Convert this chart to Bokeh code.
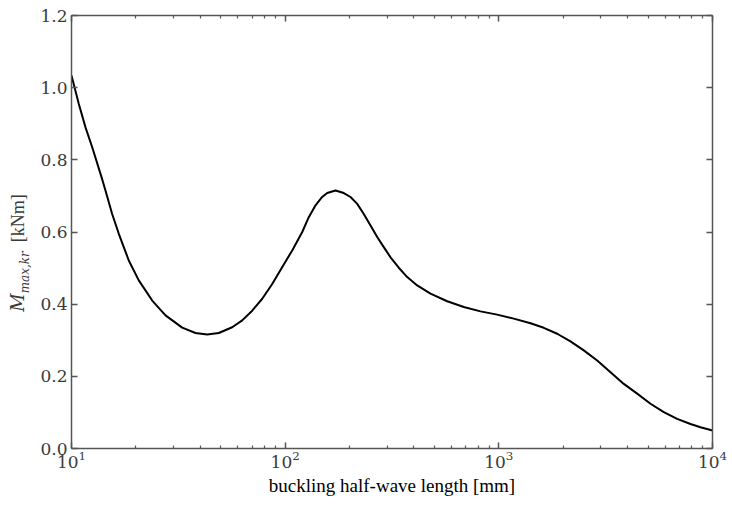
from bokeh.plotting import figure
from bokeh.layouts import row
from bokeh.models import (Range1d, FixedTicker, LogAxis, LogTickFormatter,
                          PrintfTickFormatter, LinearAxis, Div,
                          CustomJSTickFormatter)
from bokeh.embed import file_html
from bokeh.resources import INLINE

# buckling half-wave length [mm]
half_wave = [10.0, 10.82, 11.63, 12.50, 13.82, 14.42, 15.50, 16.65, 18.54,
             20.65, 23.86, 27.54, 32.97, 38.04, 43.16, 48.9, 56.50, 62.95,
             70.11, 78.1, 86.98, 96.8, 107.9, 120.2, 129.0, 138.7, 149.0,
             157.3, 172.0, 188.1, 202.2, 217.4, 233.3, 250.9, 269.6, 289.4,
             311.2, 340.2, 372.5, 414.9, 478.8, 573.3, 685.5, 821.0, 982.4,
             1175.0, 1407.0, 1623.0, 1876.0, 2164.0, 2498.0, 2886.0, 3332.0,
             3845.0, 4441.0, 5127.0, 5916.0, 6834.0, 7888.0, 8786.0, 10000.0]
# M_max,kr [kNm]
moment = [1.034, 0.955, 0.890, 0.835, 0.752, 0.715, 0.650, 0.595, 0.521,
          0.466, 0.410, 0.369, 0.335, 0.320, 0.316, 0.320, 0.336, 0.355,
          0.382, 0.415, 0.456, 0.5025, 0.549, 0.600, 0.641, 0.674, 0.697,
          0.708, 0.715, 0.708, 0.697, 0.678, 0.650, 0.618, 0.586, 0.558,
          0.530, 0.501, 0.475, 0.452, 0.429, 0.408, 0.392, 0.380, 0.371,
          0.360, 0.347, 0.3345, 0.318, 0.297, 0.272, 0.244, 0.211,
          0.179, 0.152, 0.124, 0.101, 0.082, 0.068, 0.059, 0.050]

x_major = [10, 100, 1000, 10000]
x_minor = [m * d for d in (10, 100, 1000) for m in range(2, 10)]
y_ticks = [0.0, 0.2, 0.4, 0.6, 0.8, 1.0, 1.2]

AX = "#555555"
TXT = "#3a3a3a"
LABEL_W = 36

p = figure(width=732 - LABEL_W, height=510, x_axis_type="log",
           x_range=Range1d(10, 10000), y_range=Range1d(0, 1.2),
           output_backend="svg", toolbar_location=None,
           min_border_left=71 - LABEL_W, min_border_right=20,
           min_border_top=15, min_border_bottom=62, margin=0)
p.outline_line_color = None
p.grid.visible = False
p.background_fill_color = "white"

p.line(half_wave, moment, line_color="black", line_width=2,
       line_join="round")

xt = FixedTicker(ticks=x_major, minor_ticks=x_minor)
yt = FixedTicker(ticks=y_ticks, minor_ticks=[])

def style(ax):
    ax.axis_line_color = AX
    ax.axis_line_width = 1.5
    ax.major_tick_line_color = AX
    ax.minor_tick_line_color = AX
    ax.major_tick_line_width = 1.5
    ax.minor_tick_line_width = 1.2
    ax.major_tick_in = 6
    ax.major_tick_out = 0
    ax.minor_tick_in = 3
    ax.minor_tick_out = 0
    ax.major_label_text_font = "DejaVu Serif"
    ax.major_label_text_font_size = "17px"
    ax.major_label_text_color = TXT

xb = p.xaxis[0]
xb.ticker = xt
xb.formatter = LogTickFormatter()
style(xb)
xb.major_label_standoff = 2
xb.axis_label = "buckling half-wave length [mm]"
xb.axis_label_text_font = "Liberation Serif"
xb.axis_label_text_font_style = "normal"
xb.axis_label_text_font_size = "19px"
xb.axis_label_text_color = "black"
xb.axis_label_standoff = 4

yl = p.yaxis[0]
yl.ticker = yt
yl.formatter = PrintfTickFormatter(format="%.1f")
style(yl)
yl.major_label_standoff = 4

xa = LogAxis(ticker=xt, formatter=CustomJSTickFormatter(code="return ''"))
style(xa)
xa.major_label_text_font_size = "1px"
xa.major_label_standoff = 0
p.add_layout(xa, "above")
yr = LinearAxis(ticker=yt, formatter=CustomJSTickFormatter(code="return ''"))
style(yr)
yr.major_label_text_font_size = "1px"
yr.major_label_standoff = 0
p.add_layout(yr, "right")

# y-axis title M_{max,kr} [kNm], rotated, as real HTML text
ylabel_html = (
    '<div style="position:relative;width:%dpx;height:510px;">'
    '<div style="position:absolute;left:20px;top:253px;'
    'transform:translate(-50%%,-50%%) rotate(-90deg);white-space:nowrap;'
    'font-family:Liberation Serif,Times New Roman,serif;font-size:18px;'
    'color:%s;line-height:1;">'
    '<i style="font-family:DejaVu Serif,serif;font-size:18px;">M</i>'
    '<sub style="font-family:DejaVu Serif,serif;font-size:12px;'
    'font-style:italic;">max,kr</sub>'
    '&nbsp;&nbsp;<span style="font-family:Liberation Serif,serif;">'
    '[kNm]</span></div></div>' % (LABEL_W, TXT)
)
ylabel = Div(text=ylabel_html, width=LABEL_W, height=510, margin=0)

layout = row(ylabel, p, spacing=0)

open("out.html", "w").write(file_html(layout, INLINE))
